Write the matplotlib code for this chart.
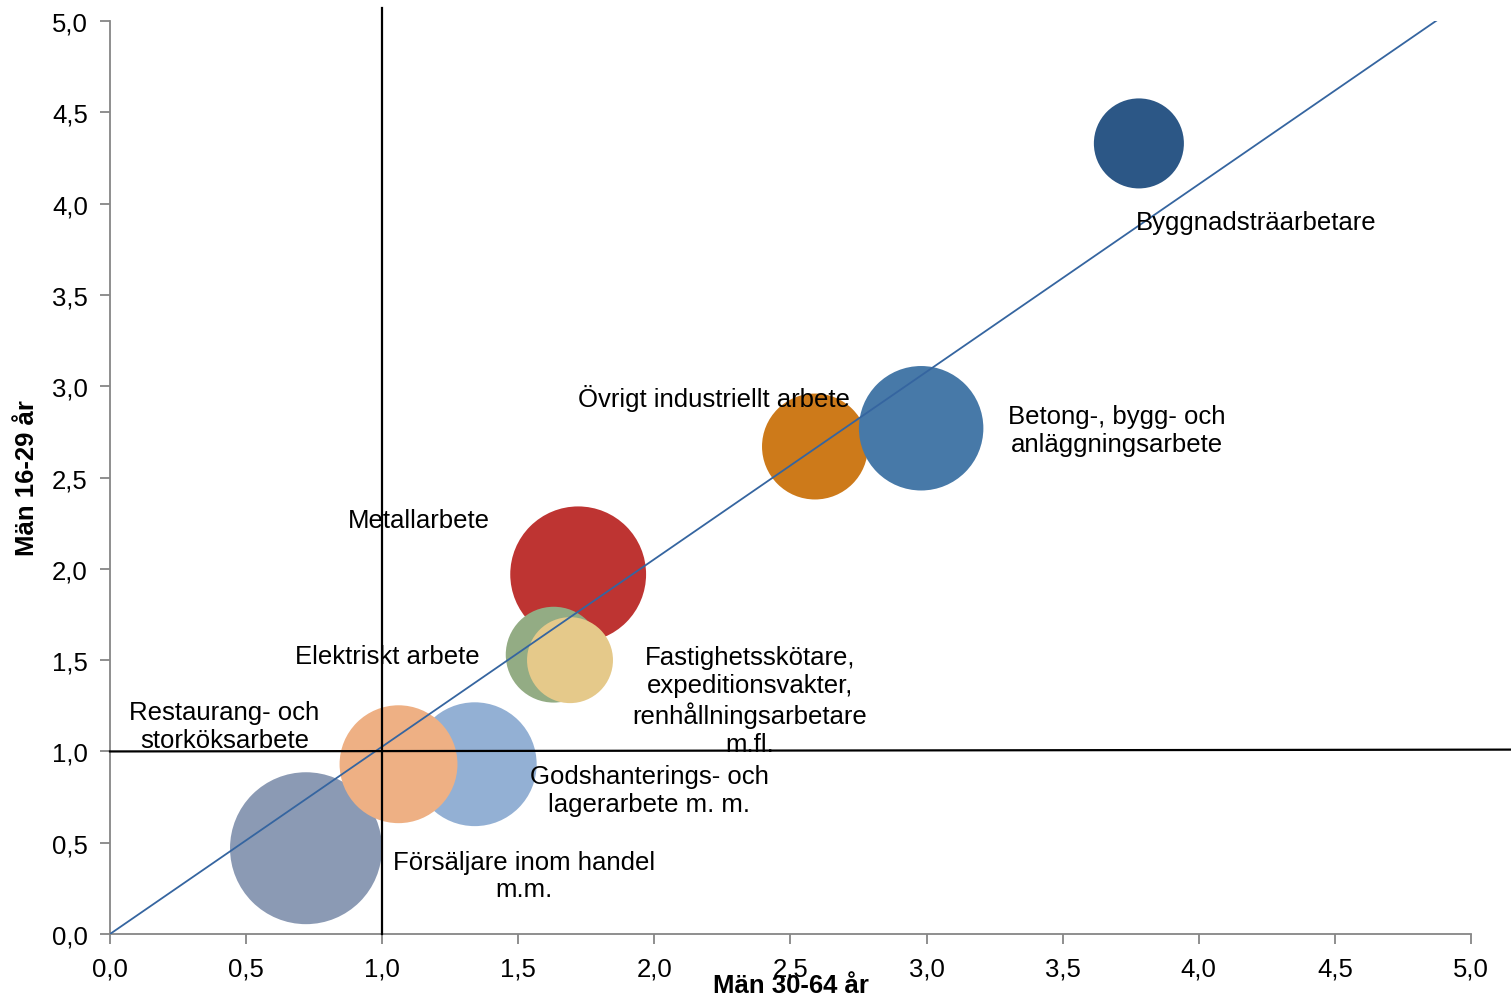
import matplotlib
matplotlib.use("Agg")
import matplotlib.pyplot as plt

plt.rcParams["font.family"] = ["Liberation Sans", "DejaVu Sans"]

# yrkesgrupper
labels = [
    "Försäljare inom handel\nm.m.",
    "Godshanterings- och\nlagerarbete m. m.",
    "Restaurang- och\nstorköksarbete",
    "Metallarbete",
    "Elektriskt arbete",
    "Fastighetsskötare,\nexpeditionsvakter,\nrenhållningsarbetare\nm.fl.",
    "Övrigt industriellt arbete",
    "Betong-, bygg- och\nanläggningsarbete",
    "Byggnadsträarbetare",
]
man_30_64 = [0.72, 1.34, 1.06, 1.72, 1.63, 1.69, 2.59, 2.98, 3.78]
man_16_29 = [0.47, 0.93, 0.93, 1.97, 1.53, 1.50, 2.67, 2.77, 4.33]
bubble = [57.8, 38.4, 34.8, 46.2, 23.0, 18.5, 28.1, 38.8, 20.3]
colors = ["#8B9AB4", "#93B0D4", "#EEB084", "#BE3432", "#93AC84",
          "#E5C98A", "#CD7A1A", "#4779A8", "#2C5786"]

# etikettpositioner
lab_x = [1.52, 1.98, 0.42, 1.135, 1.02, 2.35, 2.22, 3.70, 4.21]
lab_y = [0.32, 0.79, 1.14, 2.27, 1.52, 1.28, 2.94, 2.76, 3.90]

diag_x = [0, 4.90]
diag_y = [0, 5.03]

fig = plt.figure(figsize=(15.11, 10.04), dpi=100)
ax = fig.add_axes([0.0728, 0.0687, 0.9007, 0.9093])

ax.scatter(man_30_64, man_16_29, s=[b * 207 for b in bubble], c=colors,
           linewidths=0, zorder=2)

ax.plot(diag_x, diag_y, color="#3565A0", lw=1.3, zorder=3)
ax.plot([1, 1], [0, 5.07], color="black", lw=1.6, zorder=3, clip_on=False)
ax.plot([0, 5.15], [1, 1.01], color="black", lw=1.6, zorder=3, clip_on=False)

for t, x, y in zip(labels, lab_x, lab_y):
    ax.text(x, y, t, ha="center", va="center", fontsize=18.5,
            linespacing=1.2, zorder=4)

ax.set_xlim(0, 5)
ax.set_ylim(0, 5)
ticks = [0, 0.5, 1, 1.5, 2, 2.5, 3, 3.5, 4, 4.5, 5]
tick_labels = [f"{t:.1f}".replace(".", ",") for t in ticks]
ax.set_xticks(ticks)
ax.set_xticklabels(tick_labels)
ax.set_yticks(ticks)
ax.set_yticklabels(tick_labels)
ax.tick_params(axis="both", labelsize=18.5, color="#868686", length=7,
               width=1.3, direction="out", pad=9)

for s in ["top", "right"]:
    ax.spines[s].set_visible(False)
for s in ["left", "bottom"]:
    ax.spines[s].set_color("#868686")
    ax.spines[s].set_linewidth(1.3)

ax.set_xlabel("Män 30-64 år", fontsize=18.5, fontweight="bold", labelpad=-5)
ax.set_ylabel("Män 16-29 år", fontsize=18.5, fontweight="bold", labelpad=9)

fig.savefig("out.png", dpi=100)
